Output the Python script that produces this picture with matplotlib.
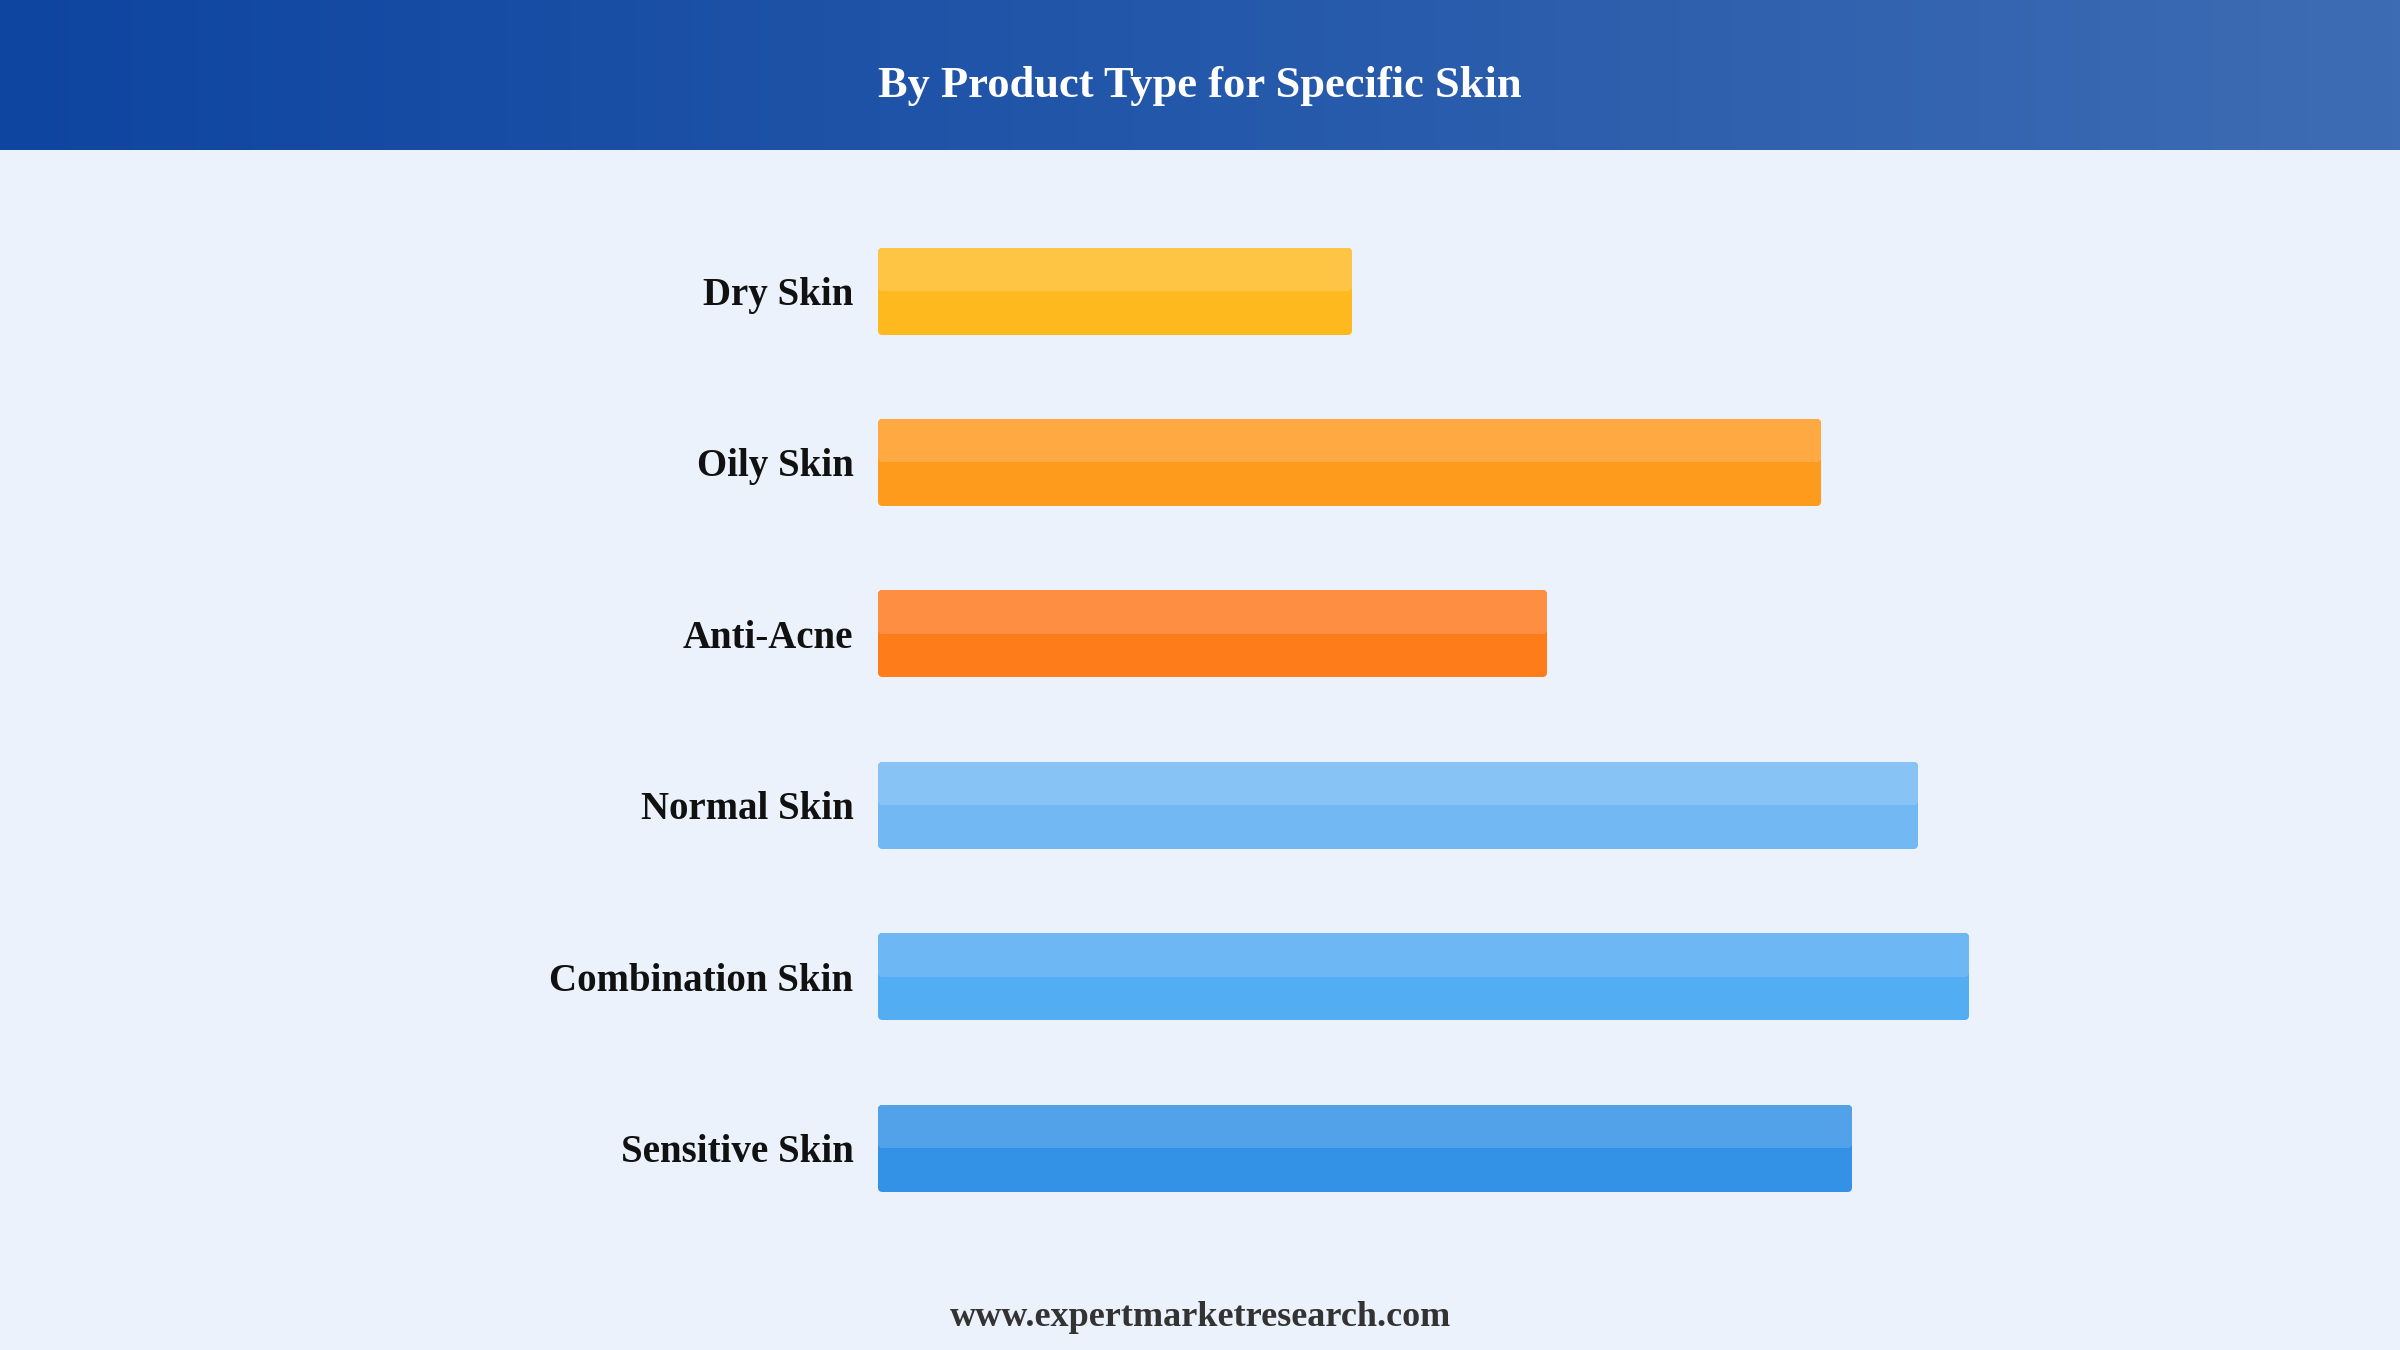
import numpy as np
import matplotlib.pyplot as plt
from matplotlib.colors import LinearSegmentedColormap

categories = ['Dry Skin', 'Oily Skin', 'Anti-Acne', 'Normal Skin', 'Combination Skin', 'Sensitive Skin']
values = [12.9, 25.9, 18.3, 28.6, 30, 26.75]
base_colors = ['#FDB91E', '#FE9B1C', '#FE7C1A', '#72B8F3', '#52ADF2', '#3392E6']
top_colors = ['#FEC443', '#FEA941', '#FE8E41', '#88C3F5', '#6DB7F4', '#51A2E9']

title = 'By Product Type for Specific Skin'
footer = 'www.expertmarketresearch.com'

W, H = 2400, 1350
bg = '#EBF2FB'
serif = ['Liberation Serif', 'DejaVu Serif']

fig = plt.figure(figsize=(24, 13.5), dpi=100, facecolor=bg)

# header band with horizontal gradient
hax = fig.add_axes([0, 1 - 150 / H, 1, 150 / H])
grad = LinearSegmentedColormap.from_list('hdr', ['#0E45A0', '#2458AA', '#3E6CB4'])
hax.imshow(np.linspace(0, 1, 256)[None, :], aspect='auto', cmap=grad, extent=[0, 1, 0, 1])
hax.set_axis_off()
hax.text(0.5, 0.43, title, ha='center', va='center', color='white',
         fontsize=32, fontweight='bold', family=serif, transform=hax.transAxes)

# bar area
slot = 171.4
top_px = 291 - slot / 2
ax = fig.add_axes([882 / W, 1 - (top_px + 6 * slot) / H, 1200 / W, 6 * slot / H])
ax.set_facecolor(bg)
y = np.arange(len(categories))

lw = 8 * 72 / 100          # edge width in points -> rounded corners
pad = 4 / slot             # half edge width in data units
full_h = 87 / slot
main_h = full_h - 2 * pad
hl_h = full_h / 2 - 2 * pad

bars = ax.barh(y, values, height=main_h, color=base_colors, edgecolor=base_colors,
               linewidth=lw, joinstyle='round')
hls = ax.barh(y - full_h / 4, values, height=hl_h, color=top_colors, edgecolor=top_colors,
              linewidth=lw, joinstyle='round')
for p in list(bars) + list(hls):
    p.set_clip_on(False)

ax.set_xlim(0, 1200 / 36.1)
ax.set_ylim(len(categories) - 0.5, -0.5)
ax.set_yticks(y)
ax.set_yticklabels(categories, fontsize=28, fontweight='bold', family=serif, color='#111111')
ax.tick_params(axis='y', length=0, pad=20.5)
ax.set_xticks([])
for s in ax.spines.values():
    s.set_visible(False)

fig.text(0.5, 1 - 1318 / H, footer, ha='center', va='center', color='#333333',
         fontsize=26, fontweight='bold', family=serif)

fig.savefig('out.png', dpi=100, facecolor=bg)
